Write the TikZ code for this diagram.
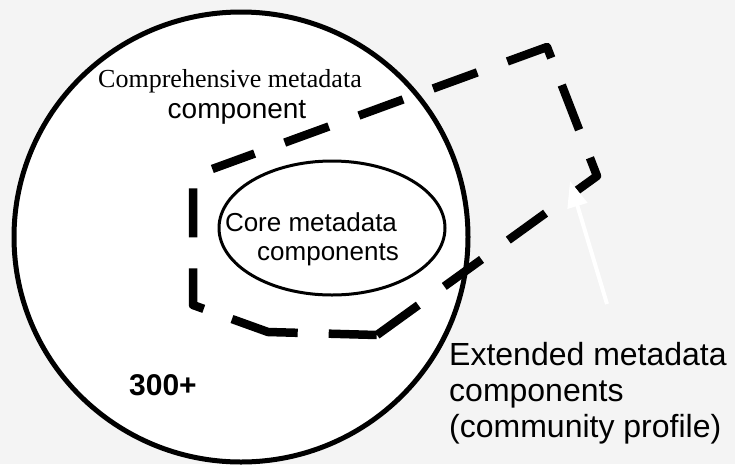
\documentclass[tikz,border=0pt]{standalone}
\usepackage{fontspec}
\setmainfont{Liberation Serif}
\setsansfont{Liberation Sans}
\usetikzlibrary{arrows.meta}
\definecolor{paper}{HTML}{F4F4F4}
\begin{document}
\begin{tikzpicture}[x=1pt, y=-1pt,
  serifcap/.style={font=\rmfamily\fontsize{26}{30}\selectfont, inner sep=0pt, text=black},
  sanscap/.style={font=\sffamily\fontsize{#1}{#1}\selectfont, inner sep=0pt, text=black},
  sanscap/.default=26,
  profileedge/.style={line width=8.5pt, line join=round,
    dash pattern=on 51pt off 32pt on 46pt off 33pt on 46pt off 39pt on 44pt off 30pt
      on 48pt off 29pt on 54pt off 32pt on 47pt off 32pt on 47pt off 32pt on 47pt off 32pt
      on 45pt off 33pt on 49pt off 31pt on 48pt off 30pt on 68pt off 31pt on 48pt},
  pointer/.style={white, line width=4pt, -{Triangle[length=26pt, width=20pt]}}]

% canvas
\fill[paper] (0,0) rectangle (735,464);
\useasboundingbox (0,0) rectangle (735,464);

% comprehensive set and core set
\draw[line width=5pt, fill=white] (241,237) ellipse [x radius=227, y radius=225];
\draw[line width=3pt] (332,228) ellipse [x radius=113, y radius=67];

% labels
\node[serifcap, anchor=base] (compA) at (230,87) {Comprehensive metadata};
\node[sanscap=28, anchor=base] (compB) at (237,118) {component};
\node[sanscap, anchor=base] (coreA) at (311,231) {Core metadata};
\node[sanscap, anchor=base] (coreB) at (328,260) {components};
\node[sanscap=30, anchor=base west] (count) at (129,395) {\bfseries 300+};
\node[sanscap=32, anchor=base west] (extA) at (449,365) {Extended metadata};
\node[sanscap=32, anchor=base west] (extB) at (449,401) {components};
\node[sanscap=32, anchor=base west] (extC) at (449,437) {(community profile)};

% community profile outline
\draw[profileedge] (377,335) -- (597,176) -- (547,47) -- (193,176) -- (193,305) -- (268,332) -- cycle;

% white pointer into the profile
\coordinate (ptail) at (607,304);
\coordinate (ptip) at (570,181);
\draw[pointer] (ptail) -- (ptip);
\end{tikzpicture}
\end{document}
